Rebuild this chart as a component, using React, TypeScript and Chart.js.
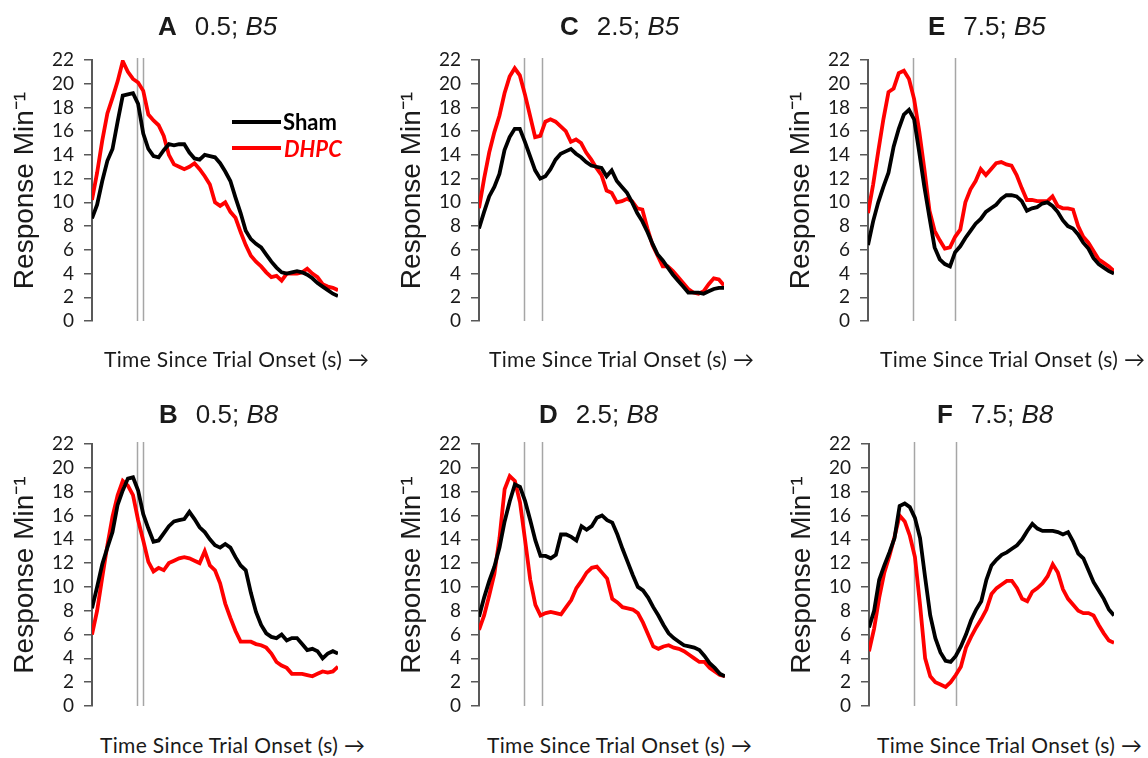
import React, { useEffect, useRef } from "react";
import { Chart, registerables } from "chart.js";

Chart.register(...registerables);

// ---------- data (responses per minute, one value per time bin) ----------
const shamA = [8.65, 9.8, 11.8, 13.5, 14.5, 16.8, 19.0, 19.1, 19.2, 18.3, 15.8, 14.5, 13.9, 13.8, 14.4, 14.9, 14.8, 14.9, 14.9, 14.2, 13.7, 13.6, 14.0, 13.9, 13.8, 13.3, 12.6, 11.8, 10.4, 9.1, 7.6, 6.9, 6.5, 6.2, 5.6, 5.0, 4.5, 4.1, 4.0, 4.1, 4.2, 4.1, 3.9, 3.6, 3.2, 2.9, 2.6, 2.3, 2.1];
const dhpcA = [10.2, 12.5, 15.2, 17.5, 18.8, 20.2, 21.9, 21.0, 20.4, 20.1, 19.4, 17.4, 16.9, 16.5, 15.6, 14.0, 13.2, 13.0, 12.8, 13.0, 13.3, 12.8, 12.2, 11.5, 10.0, 9.7, 10.0, 9.2, 8.7, 7.5, 6.4, 5.5, 5.0, 4.6, 4.1, 3.7, 3.8, 3.4, 4.0, 4.0, 4.0, 4.1, 4.4, 4.0, 3.7, 3.1, 2.9, 2.8, 2.6];

const shamC = [7.8, 9.2, 10.5, 11.3, 12.4, 14.4, 15.5, 16.2, 16.2, 15.1, 13.9, 12.7, 12.0, 12.2, 12.8, 13.6, 14.1, 14.3, 14.5, 14.1, 13.8, 13.4, 13.1, 13.0, 12.9, 12.2, 12.7, 11.8, 11.3, 10.8, 10.0, 9.1, 8.4, 7.5, 6.5, 5.6, 5.1, 4.5, 3.9, 3.4, 2.9, 2.4, 2.4, 2.4, 2.3, 2.5, 2.7, 2.8, 2.8];
const dhpcC = [9.5, 12.0, 14.2, 15.9, 17.3, 19.2, 20.6, 21.3, 20.7, 19.1, 17.3, 15.5, 15.6, 16.8, 17.0, 16.8, 16.4, 16.0, 15.1, 15.3, 15.0, 14.2, 13.6, 12.9, 12.3, 11.0, 10.8, 10.0, 10.1, 10.3, 10.1, 9.5, 9.4, 7.8, 6.4, 5.5, 4.6, 4.6, 4.2, 3.7, 3.2, 2.7, 2.4, 2.3, 2.5, 3.1, 3.6, 3.5, 3.0];

const shamE = [6.4, 8.4, 10.0, 11.3, 12.5, 14.7, 16.2, 17.4, 17.8, 17.0, 14.2, 11.3, 8.7, 6.2, 5.2, 4.8, 4.6, 5.8, 6.3, 7.0, 7.6, 8.2, 8.6, 9.2, 9.5, 9.8, 10.3, 10.6, 10.6, 10.5, 10.1, 9.3, 9.5, 9.6, 9.9, 10.0, 9.7, 9.2, 8.5, 8.0, 7.8, 7.3, 6.6, 6.1, 5.3, 4.8, 4.5, 4.2, 4.0];
const dhpcE = [9.1, 11.5, 14.3, 17.0, 19.3, 19.6, 20.9, 21.1, 20.4, 18.7, 16.0, 12.8, 9.3, 7.6, 6.8, 6.1, 6.2, 7.1, 7.7, 10.0, 11.1, 11.8, 12.8, 12.3, 12.8, 13.3, 13.4, 13.2, 13.1, 12.3, 11.2, 10.2, 10.2, 10.1, 10.1, 10.1, 10.5, 9.7, 9.5, 9.5, 9.4, 8.0, 7.1, 6.6, 5.9, 5.2, 4.9, 4.6, 4.2];

const shamB = [8.2, 10.0, 11.9, 13.3, 14.6, 16.9, 18.1, 19.1, 19.2, 18.1, 16.1, 14.9, 13.8, 13.9, 14.5, 15.1, 15.5, 15.6, 15.7, 16.3, 15.7, 15.0, 14.6, 14.0, 13.5, 13.3, 13.6, 13.3, 12.5, 11.8, 11.4, 9.5, 7.9, 6.8, 6.1, 5.8, 5.7, 6.0, 5.5, 5.7, 5.7, 5.2, 4.7, 4.8, 4.6, 4.0, 4.4, 4.6, 4.4];
const dhpcB = [6.0, 8.0, 10.8, 13.5, 15.9, 17.7, 18.9, 18.5, 17.7, 15.6, 13.9, 12.1, 11.3, 11.6, 11.4, 12.0, 12.2, 12.4, 12.5, 12.4, 12.2, 12.0, 13.0, 11.8, 11.4, 10.3, 8.6, 7.4, 6.3, 5.4, 5.4, 5.4, 5.2, 5.1, 4.9, 4.4, 3.7, 3.4, 3.2, 2.7, 2.7, 2.7, 2.6, 2.5, 2.7, 2.9, 2.8, 2.9, 3.3];

const shamD = [7.5, 9.1, 10.5, 11.7, 13.3, 15.5, 17.2, 18.6, 18.4, 17.2, 15.6, 13.9, 12.6, 12.6, 12.4, 12.7, 14.4, 14.4, 14.2, 13.9, 15.1, 14.8, 15.1, 15.8, 16.0, 15.6, 15.4, 14.4, 13.2, 12.1, 11.0, 10.0, 9.7, 9.1, 8.3, 7.6, 6.8, 6.1, 5.7, 5.4, 5.1, 5.0, 4.9, 4.7, 4.2, 3.6, 3.2, 2.7, 2.5];
const dhpcD = [6.4, 7.6, 9.3, 11.1, 14.1, 18.2, 19.3, 18.9, 17.1, 13.9, 10.6, 8.5, 7.6, 7.8, 7.9, 7.8, 7.7, 8.3, 8.9, 9.9, 10.5, 11.2, 11.6, 11.7, 11.2, 10.7, 9.0, 8.7, 8.3, 8.2, 8.1, 7.8, 7.0, 6.0, 5.0, 4.8, 5.0, 5.1, 4.9, 4.8, 4.6, 4.3, 4.0, 3.7, 3.7, 3.2, 2.9, 2.6, 2.5];

const shamF = [6.6, 8.0, 10.6, 11.8, 12.9, 14.1, 16.8, 17.0, 16.7, 15.8, 14.1, 10.8, 7.6, 5.7, 4.5, 3.8, 3.7, 4.2, 5.0, 6.0, 7.2, 8.1, 8.8, 10.6, 11.8, 12.3, 12.7, 12.9, 13.2, 13.5, 14.0, 14.7, 15.3, 14.9, 14.7, 14.7, 14.7, 14.6, 14.4, 14.6, 13.8, 12.8, 12.4, 11.4, 10.4, 9.7, 9.0, 8.1, 7.6];
const dhpcF = [4.6, 6.5, 9.1, 11.2, 12.6, 14.2, 16.0, 15.5, 14.3, 12.5, 8.5, 4.0, 2.5, 2.0, 1.8, 1.6, 2.0, 2.6, 3.3, 4.9, 5.8, 6.6, 7.3, 8.1, 9.4, 9.9, 10.2, 10.5, 10.5, 9.9, 9.0, 8.8, 9.6, 9.9, 10.3, 10.9, 11.9, 11.2, 9.8, 9.0, 8.5, 8.0, 7.8, 7.8, 7.6, 6.8, 6.1, 5.5, 5.3];

// trial-event markers (in time-bin units)
const markers05 = [8.8, 9.95];
const markers25 = [8.8, 12.3];
const markers75 = [8.8, 16.95];

// axis settings
const yMin = 0;
const yMax = 22;
const yStep = 2;
const yTitle = "Response Min\u207B\u00B9";
const xTitle = "Time Since Trial Onset (s) \u2192";
const seriesNames = ["Sham", "DHPC"];

// ---------- layout ----------
const AXIS_W = 92;
const PAD_R = 8;
const PAD_T = 26;
const PAD_B = 26;

type PanelCfg = {
  letter: string;
  delay: string;
  block: string;
  sham: number[];
  dhpc: number[];
  markers: number[];
  axisX: number;
  endX: number;
  topY: number;
  botY: number;
  titleX: number;
  titleBase: number;
  xTitleX: number;
  xTitleCap: number;
  legend?: boolean;
};

const panels: PanelCfg[] = [
  { letter: "A", delay: "0.5;", block: "B5", sham: shamA, dhpc: dhpcA, markers: markers05, axisX: 92, endX: 338, topY: 60, botY: 321, titleX: 158, titleBase: 35, xTitleX: 104, xTitleCap: 352, legend: true },
  { letter: "C", delay: "2.5;", block: "B5", sham: shamC, dhpc: dhpcC, markers: markers25, axisX: 479, endX: 724, topY: 60, botY: 321, titleX: 560, titleBase: 35, xTitleX: 489, xTitleCap: 352 },
  { letter: "E", delay: "7.5;", block: "B5", sham: shamE, dhpc: dhpcE, markers: markers75, axisX: 868, endX: 1114, topY: 60, botY: 321, titleX: 928, titleBase: 35, xTitleX: 880, xTitleCap: 352 },
  { letter: "B", delay: "0.5;", block: "B8", sham: shamB, dhpc: dhpcB, markers: markers05, axisX: 92, endX: 338, topY: 444, botY: 706, titleX: 159, titleBase: 423, xTitleX: 100, xTitleCap: 738 },
  { letter: "D", delay: "2.5;", block: "B8", sham: shamD, dhpc: dhpcD, markers: markers25, axisX: 479, endX: 725, topY: 444, botY: 706, titleX: 539, titleBase: 423, xTitleX: 487, xTitleCap: 738 },
  { letter: "F", delay: "7.5;", block: "B8", sham: shamF, dhpc: dhpcF, markers: markers75, axisX: 869, endX: 1114, topY: 444, botY: 706, titleX: 937, titleBase: 423, xTitleX: 877, xTitleCap: 738 },
];

const markerPlugin = {
  id: "trialMarkers",
  beforeDatasetsDraw(chart: any, _args: any, opts: any) {
    const { ctx, chartArea, scales } = chart;
    const xs = scales.x;
    ctx.save();
    ctx.strokeStyle = "#a6a6a6";
    ctx.lineWidth = 1.5;
    (opts.values || []).forEach((v: number) => {
      const px = Math.round(xs.getPixelForValue(v)) + 0.5;
      ctx.beginPath();
      ctx.moveTo(px, chartArea.top - 2);
      ctx.lineTo(px, chartArea.bottom);
      ctx.stroke();
    });
    ctx.restore();
  },
};

function Panel({ cfg }: { cfg: PanelCfg }) {
  const ref = useRef<HTMLCanvasElement>(null);
  const width = cfg.endX - cfg.axisX + AXIS_W + PAD_R;
  const height = cfg.botY - cfg.topY + PAD_T + PAD_B;
  useEffect(() => {
    if (!ref.current) return;
    const chart = new Chart(ref.current, {
      type: "line",
      data: {
        datasets: [
          {
            label: seriesNames[0],
            data: cfg.sham.map((y, i) => ({ x: i, y })),
            borderColor: "#000000",
            backgroundColor: "#000000",
            borderWidth: 3.8,
            pointRadius: 0,
            tension: 0,
          },
          {
            label: seriesNames[1],
            data: cfg.dhpc.map((y, i) => ({ x: i, y })),
            borderColor: "#ff0000",
            backgroundColor: "#ff0000",
            borderWidth: 3.8,
            pointRadius: 0,
            tension: 0,
          },
        ],
      },
      options: {
        animation: false,
        responsive: false,
        maintainAspectRatio: false,
        events: [],
        layout: { padding: { left: 0, right: PAD_R, top: PAD_T, bottom: PAD_B } },
        plugins: {
          legend: { display: false },
          tooltip: { enabled: false },
          trialMarkers: { values: cfg.markers },
        } as any,
        scales: {
          x: { type: "linear", min: 0, max: cfg.sham.length - 1, display: false },
          y: {
            min: yMin,
            max: yMax,
            ticks: {
              stepSize: yStep,
              autoSkip: false,
              font: { family: "Lato", size: 19 },
              color: "#1a1a1a",
              padding: 10,
            },
            grid: {
              drawOnChartArea: false,
              drawTicks: true,
              tickLength: 8,
              color: "#595959",
              lineWidth: 1.5,
            },
            border: { display: true, color: "#595959", width: 2 },
            title: {
              display: true,
              text: yTitle,
              font: { family: "Liberation Sans", size: 28 },
              color: "#1a1a1a",
              padding: { top: 8, bottom: 0 },
            },
            afterFit: (s: any) => {
              s.width = AXIS_W;
            },
          },
        },
      },
      plugins: [markerPlugin],
    });
    return () => chart.destroy();
  }, [cfg]);

  return (
    <>
      <canvas
        ref={ref}
        width={width}
        height={height}
        style={{ position: "absolute", left: cfg.axisX - AXIS_W, top: cfg.topY - PAD_T, width, height }}
      />
      <div
        style={{
          position: "absolute",
          left: cfg.titleX,
          top: cfg.titleBase - 22,
          fontFamily: "'Liberation Sans', Arial, sans-serif",
          fontSize: 26,
          lineHeight: 1,
          color: "#1a1a1a",
          whiteSpace: "nowrap",
        }}
      >
        <b>{cfg.letter}</b>
        <span style={{ marginLeft: 18 }}>{cfg.delay} </span>
        <i>{cfg.block}</i>
      </div>
      <div
        style={{
          position: "absolute",
          left: cfg.xTitleX,
          top: cfg.xTitleCap - 4,
          fontFamily: "Lato, sans-serif",
          fontSize: 21,
          letterSpacing: 0.35,
          lineHeight: 1,
          color: "#1a1a1a",
          whiteSpace: "nowrap",
        }}
      >
        {xTitle}
      </div>
      {cfg.legend && (
        <>
          <div style={{ position: "absolute", left: 232, top: 120, width: 49, height: 4, background: "#000" }} />
          <div
            style={{
              position: "absolute",
              left: 283,
              top: 111,
              fontFamily: "Lato, sans-serif",
              fontWeight: 700,
              fontSize: 22,
              lineHeight: 1,
              color: "#000",
              whiteSpace: "nowrap",
            }}
          >
            {seriesNames[0]}
          </div>
          <div style={{ position: "absolute", left: 232, top: 146, width: 49, height: 4, background: "#ff0000" }} />
          <div
            style={{
              position: "absolute",
              left: 284,
              top: 138,
              fontFamily: "Lato, sans-serif",
              fontWeight: 700,
              fontStyle: "italic",
              fontSize: 22,
              lineHeight: 1,
              color: "#ff0000",
              whiteSpace: "nowrap",
            }}
          >
            {seriesNames[1]}
          </div>
        </>
      )}
    </>
  );
}

export default function App() {
  return (
    <div
      style={{
        position: "absolute",
        left: 0,
        top: 0,
        width: 1148,
        height: 758,
        background: "#ffffff",
        overflow: "hidden",
      }}
    >
      {panels.map((p) => (
        <Panel key={p.letter} cfg={p} />
      ))}
    </div>
  );
}
